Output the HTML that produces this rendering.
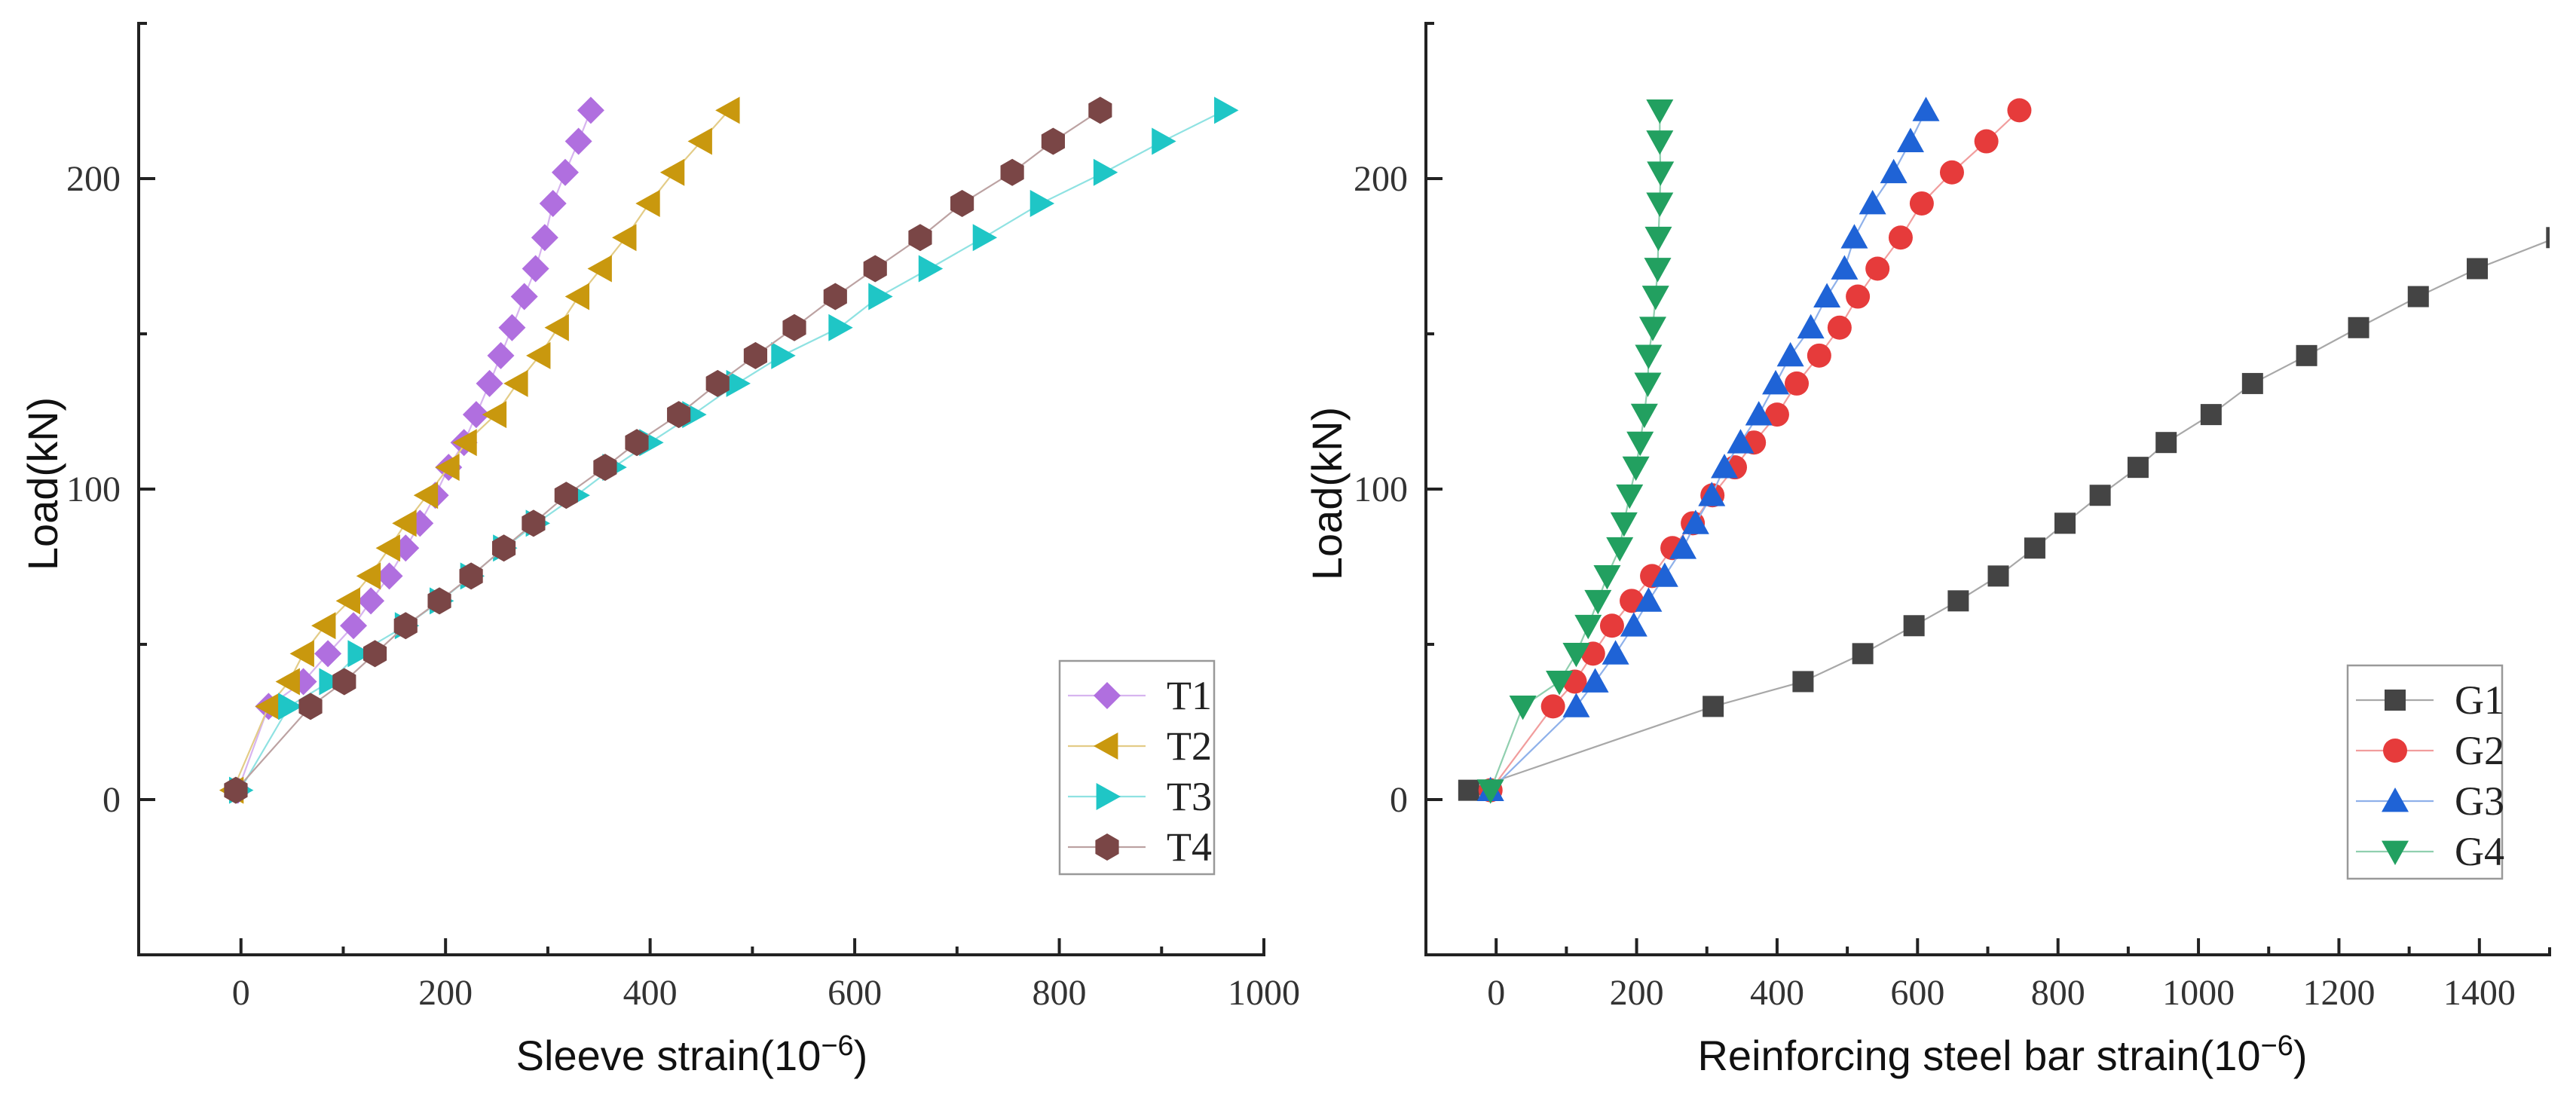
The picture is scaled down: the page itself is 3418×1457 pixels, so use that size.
<!DOCTYPE html>
<html><head><meta charset="utf-8"><style>
html,body{margin:0;padding:0;background:#fff;}
svg{display:block;}
.tick{font-family:"Liberation Serif",serif;font-size:48px;fill:#333;}
.title{font-family:"Liberation Sans",sans-serif;font-size:56px;fill:#111;}
.leg{font-family:"Liberation Serif",serif;font-size:54px;fill:#222;}
</style></head><body>
<svg id="chart" width="3418" height="1457" viewBox="0 0 3418 1457" xmlns="http://www.w3.org/2000/svg"></svg>
<script>
// ---- data ----
const loadsT = [3,30,38,47,56,64,72,81,89,98,107,115,124,134,143,152,162,171,181,192,202,212,222];
const strainT1 = [-3,27,61,85,110,127,145,161,175,190,203,218,230,243,254,265,277,288,297,305,317,330,342];
const strainT2 = [-8,27,47,61,82,106,126,145,161,182,203,220,249,270,292,310,330,352,376,399,423,450,477];
const strainT3 = [-1,47,87,115,161,195,225,257,289,328,364,400,442,485,529,585,624,673,726,782,844,901,962];
const strainT4 = [-5,68,101,131,161,194,225,257,286,318,356,387,428,466,503,541,581,620,664,705,754,794,840];
const loadsG1 = [3,30,38,47,56,64,72,81,89,98,107,115,124,134,143,152,162,171,181];
const strainG1 = [-39,309,437,522,595,658,715,767,810,860,914,954,1018,1077,1154,1228,1313,1397,1510];
const loadsG = [3,30,38,47,56,64,72,81,89,98,107,115,124,134,143,152,162,171,181,192,202,212,222];
const strainG2 = [-8,81,112,138,165,193,222,251,280,308,340,367,400,428,460,489,515,543,576,606,649,698,745];
const strainG3 = [-8,114,141,170,196,217,240,266,284,307,325,348,374,398,419,448,471,496,510,536,566,590,612];
const strainG4 = [-8,38,90,114,131,145,158,176,182,190,199,205,211,216,217,223,227,230,231,233,234,233,233];
const xTicksLeft = [0,200,400,600,800,1000];
const xTicksRight = [0,200,400,600,800,1000,1200,1400];
const yTicks = [0,100,200];

const NS = "http://www.w3.org/2000/svg";
const svg = document.getElementById('chart');
function el(tag, attrs, parent){const e=document.createElementNS(NS,tag);for(const k in attrs)e.setAttribute(k,attrs[k]);(parent||svg).appendChild(e);return e;}

const yTop=31, yBot=1267, yMin=-50, yMax=250;
function Y(v){return yBot-(v-yMin)/(yMax-yMin)*(yBot-yTop);}

function marker(g,type,cx,cy,color){
  let m; const r=18;
  if(type==='diamond'){m=el('polygon',{points:`${cx},${cy-r} ${cx+r},${cy} ${cx},${cy+r} ${cx-r},${cy}`,fill:color},g);}
  else if(type==='left'){m=el('polygon',{points:`${cx-r},${cy} ${cx+r*0.8},${cy-r} ${cx+r*0.8},${cy+r}`,fill:color},g);}
  else if(type==='right'){m=el('polygon',{points:`${cx+r},${cy} ${cx-r*0.8},${cy-r} ${cx-r*0.8},${cy+r}`,fill:color},g);}
  else if(type==='up'){m=el('polygon',{points:`${cx},${cy-r} ${cx+r},${cy+r*0.8} ${cx-r},${cy+r*0.8}`,fill:color},g);}
  else if(type==='down'){m=el('polygon',{points:`${cx},${cy+r} ${cx+r},${cy-r*0.8} ${cx-r},${cy-r*0.8}`,fill:color},g);}
  else if(type==='hex'){let p=[];for(let i=0;i<6;i++){const a=Math.PI/6+i*Math.PI/3;p.push((cx+r*Math.cos(a))+','+(cy+r*Math.sin(a)));}m=el('polygon',{points:p.join(' '),fill:color},g);}
  else if(type==='circle'){m=el('circle',{cx:cx,cy:cy,r:16,fill:color},g);}
  else if(type==='square'){m=el('rect',{x:cx-14,y:cy-14,width:28,height:28,fill:color},g);}
  return m;
}

function panel(opt){
  const {left,right,xMin,xMax,xTicks,series,xTitle,xTitleX,yTitleX,yTitleY,legend,name,clipId}=opt;
  const X=v=>left+(v-xMin)/(xMax-xMin)*(right-left);
  const g=el('g',{});
  
  
  const defs=el('defs',{},g);
  const cp=el('clipPath',{id:clipId},defs);
  el('rect',{x:left,y:yTop,width:right-left,height:yBot-yTop},cp);
  const sg=el('g',{'clip-path':`url(#${clipId})`},g);
  series.forEach(s=>{
    const grp=el('g',{},sg);
    
    
    const pts=s.x.map((v,i)=>X(v)+','+Y(s.y[i])).join(' ');
    el('polyline',{points:pts,fill:'none',stroke:s.line,'stroke-width':2.2},grp);
    s.x.forEach((v,i)=>{
      const m=marker(grp,s.marker,X(v),Y(s.y[i]),s.color);
      
      
    });
  });
  const ax=el('g',{stroke:'#222','stroke-width':4,fill:'none'},g);
  
  
  el('polyline',{points:`${left+10},${yTop} ${left},${yTop} ${left},${yBot} ${right},${yBot} ${right},${yBot-10}`},ax);
  for(let i=0;i<xTicks.length;i++){
    const t=xTicks[i];const px=X(t);
    el('line',{x1:px,y1:yBot,x2:px,y2:yBot-22},ax);
    const mid=X(t+(xTicks[1]-xTicks[0])/2);
    if(mid<right-2) el('line',{x1:mid,y1:yBot,x2:mid,y2:yBot-11},ax);
    const mPrev=X(t-(xTicks[1]-xTicks[0])/2);
    if(i===0 && mPrev>left+2) el('line',{x1:mPrev,y1:yBot,x2:mPrev,y2:yBot-11},ax);
    const tl=el('text',{x:px,y:1333,'text-anchor':'middle',class:'tick'},g);
    tl.textContent=t;
    
    
  }
  yTicks.forEach(t=>{
    el('line',{x1:left,y1:Y(t),x2:left+22,y2:Y(t)},ax);
    el('line',{x1:left,y1:Y(t+50),x2:left+11,y2:Y(t+50)},ax);
    const tl=el('text',{x:left-24,y:Y(t)+16,'text-anchor':'end',class:'tick'},g);
    tl.textContent=t;
    
    
  });
  el('line',{x1:left,y1:Y(-50),x2:left+11,y2:Y(-50)},ax);
  const xt=el('text',{x:xTitleX,y:1420,'text-anchor':'middle',class:'title'},g);
  xt.innerHTML=xTitle+'(10<tspan dy="-20" font-size="38">−6</tspan><tspan dy="20">)</tspan>';
  
  
  const yt=el('text',{x:0,y:0,'text-anchor':'middle',class:'title','font-size':'58',transform:`translate(${yTitleX},${yTitleY}) rotate(-90)`},g);
  yt.textContent='Load(kN)';
  
  
  const lg=el('g',{},g);
  
  
  el('rect',{x:legend.x,y:legend.y,width:205,height:283,fill:'#fff',stroke:'#999','stroke-width':2.5},lg);
  series.forEach((s,i)=>{
    const ey=legend.y+46+i*67;
    const e=el('g',{},lg);
    
    
    el('line',{x1:legend.x+11,y1:ey,x2:legend.x+114,y2:ey,stroke:s.line,'stroke-width':2.2},e);
    marker(e,s.marker,legend.x+63,ey,s.color);
    const t=el('text',{x:legend.x+142,y:ey+18,class:'leg'},e);
    t.textContent=s.label;
  });
}

panel({name:'sleeve-strain-chart',clipId:'c1',left:184,right:1677,xMin:-100,xMax:1000,xTicks:xTicksLeft,
  xTitle:'Sleeve strain',xTitleX:918,yTitleX:76,yTitleY:642,legend:{x:1406,y:877},
  series:[
    {label:'T1',x:strainT1,y:loadsT,marker:'diamond',color:'#b06fdf',line:'#d7b4ef'},
    {label:'T2',x:strainT2,y:loadsT,marker:'left',color:'#c9980e',line:'#e3cc87'},
    {label:'T3',x:strainT3,y:loadsT,marker:'right',color:'#1fc6c6',line:'#8fe2e2'},
    {label:'T4',x:strainT4,y:loadsT,marker:'hex',color:'#7a4646',line:'#bca2a2'}
  ]});
panel({name:'steel-bar-strain-chart',clipId:'c2',left:1892,right:3383,xMin:-100,xMax:1500,xTicks:xTicksRight,
  xTitle:'Reinforcing steel bar strain',xTitleX:2657,yTitleX:1780,yTitleY:655,legend:{x:3115,y:883},
  series:[
    {label:'G1',x:strainG1,y:loadsG1,marker:'square',color:'#444444',line:'#a8a8a8'},
    {label:'G2',x:strainG2,y:loadsG,marker:'circle',color:'#e63b3b',line:'#f19d9d'},
    {label:'G3',x:strainG3,y:loadsG,marker:'up',color:'#1f63d6',line:'#8fb1ea'},
    {label:'G4',x:strainG4,y:loadsG,marker:'down',color:'#22a060',line:'#90cfaf'}
  ]});
</script>
</body></html>
